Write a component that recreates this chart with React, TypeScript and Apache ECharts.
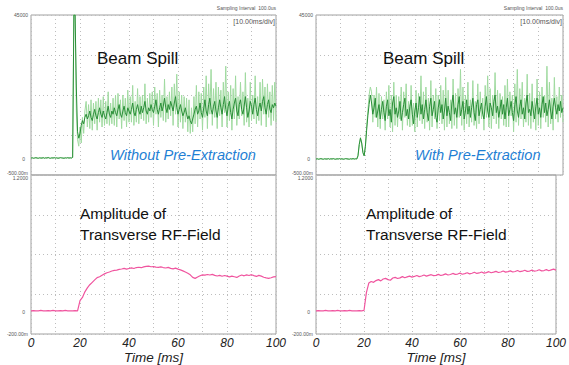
import React, { useEffect, useRef } from "react";
import * as echarts from "echarts";

// Time axis ticks (ms)
const timeTicks = [0, 20, 40, 60, 80, 100];
const spillStep = 0.5; // ms between spill samples
const rfStep = 1; // ms between RF samples

// Beam spill without pre-extraction (percent of full scale), dark averaged trace
const spillWithoutDark = [
  10.6,10.7,10.5,10.6,10.8,10.6,10.5,10.7,10.6,10.6,10.8,10.5,10.7,10.6,10.9,10.6,10.5,10.7,10.6,10.8,10.6,10.7,10.5,10.6,10.8,10.7,10.6,10.5,10.7,10.6,10.8,10.6,10.7,10.6,
  11,100,100,55,27,23,26,31,34,32,36,
  38,35,37,40,36,34,38,41,37,35,
  39,42,38,36,40,37,35,39,43,38,
  36,40,38,42,39,37,41,44,38,36,
  40,43,39,37,42,40,38,41,45,39,
  37,41,44,40,38,43,39,42,46,40,
  38,42,40,44,41,39,43,47,41,38,
  42,45,40,43,48,42,39,44,41,46,
  43,40,45,49,42,38,41,44,40,37,
  39,42,38,35,37,34,32,35,38,41,
  43,38,40,45,39,36,42,47,40,37,
  44,48,41,38,43,46,40,36,42,47,
  42,38,44,49,41,37,43,46,39,35,
  41,45,48,40,37,44,47,41,38,43,
  49,42,36,40,46,43,38,44,48,41,
  37,42,45,40,46,49,42,38,44,47,
  41,39,44,42,45,43,
];
// Raw (envelope) trace without pre-extraction
const spillWithoutLight = [
  10.6,10.9,10.4,10.7,10.9,10.5,10.4,10.8,10.6,10.5,10.9,10.4,10.8,10.6,11.0,10.5,10.4,10.8,10.6,10.9,10.5,10.8,10.4,10.6,10.9,10.7,10.5,10.4,10.8,10.6,10.9,10.5,10.8,10.6,
  11,104,104,40,22,18,30,20,36,26,40,
  46,30,44,29,47,28,45,32,46,28,
  48,33,47,30,49,31,46,32,52,31,
  45,32,48,31,50,30,51,35,47,29,
  50,34,48,30,53,33,49,33,56,31,
  46,33,54,32,49,35,50,34,57,32,
  48,33,51,36,52,31,55,38,51,30,
  53,36,50,34,60,33,49,35,52,37,
  55,31,57,38,63,30,52,33,50,29,
  49,33,48,27,47,26,42,27,49,32,
  56,30,52,35,51,28,55,36,62,29,
  57,38,66,31,54,36,58,29,55,37,
  53,30,58,39,68,30,52,34,56,28,
  54,35,62,31,49,35,58,37,52,31,
  64,33,48,30,58,34,50,35,62,32,
  49,34,58,31,60,38,55,30,57,36,
  52,31,56,34,58,33,
];
// Beam spill with pre-extraction, dark averaged trace
const spillWithDark = [
  10.0,10.1,9.9,10.0,10.2,10.0,9.9,10.1,10.0,10.0,10.2,9.9,10.1,10.0,10.2,10.0,9.9,10.1,10.0,10.2,10.0,10.1,9.9,10.0,10.2,10.1,10.0,9.9,10.1,10.0,10.2,10.0,10.1,10.0,
  12,19,23,20,14,12,18,28,37,44,50,
  45,38,42,48,36,40,44,35,41,46,
  39,34,43,47,37,41,33,45,49,38,
  42,36,40,46,34,39,44,48,37,41,
  35,43,47,38,32,40,45,36,42,49,
  38,44,35,41,47,39,34,43,48,37,
  41,46,36,33,42,47,39,44,35,40,
  48,37,43,39,34,45,50,38,42,36,
  44,49,37,41,46,35,40,47,38,43,
  36,42,48,39,34,44,47,37,41,45,
  38,35,43,49,40,36,45,42,37,46,
  50,39,43,36,41,47,38,44,35,42,
  48,37,41,46,39,34,44,49,40,36,
  43,47,38,42,35,45,50,39,41,37,
  46,40,35,43,48,38,42,36,44,49,
  39,45,37,41,47,40,35,43,48,42,
  38,44,40,46,39,42,
];
// Raw (envelope) trace with pre-extraction
const spillWithLight = [
  10.0,10.3,9.8,10.1,10.3,9.9,9.8,10.2,10.0,9.9,10.3,9.8,10.2,10.0,10.3,9.9,9.8,10.2,10.0,10.3,9.9,10.2,9.8,10.0,10.3,10.1,9.9,9.8,10.2,10.0,10.3,9.9,10.2,10.0,
  12,19,23.5,20,14,12,18,30,40,50,55,
  52,33,50,36,55,30,51,29,49,35,
  47,28,52,35,56,30,50,27,58,31,
  50,30,49,35,55,28,52,36,57,31,
  46,30,56,31,45,27,53,30,51,34,
  62,32,52,29,55,33,48,28,59,30,
  50,35,54,29,50,34,56,32,53,28,
  61,30,53,32,47,29,60,31,51,29,
  54,36,66,31,55,28,50,32,58,30,
  47,33,59,31,46,29,57,32,52,35,
  48,28,56,36,62,30,54,29,50,35,
  64,32,53,29,51,35,49,31,56,30,
  60,30,52,37,50,27,57,33,66,31,
  54,35,58,30,48,33,63,31,51,29,
  57,33,48,28,60,31,52,29,55,36,
  50,33,68,30,58,32,48,28,61,35,
  49,33,55,36,50,33,
];
// Amplitude of transverse RF-field without pre-extraction (percent of full scale), 1 ms steps
const rfWithout = [
  14.6,14.7,14.5,14.6,14.8,14.6,14.5,14.7,14.6,14.8,14.6,14.5,14.7,14.6,14.8,14.6,14.5,14.6,14.7,14.6,
  21,23,26.5,29,31,32.5,34,35.5,36,37,37.8,38.5,39,39.6,40,40.2,40.6,40.9,41.3,40.8,
  41.2,41.6,41.2,41.8,42,41.7,42.2,42.5,42.7,42.3,42.4,42.1,41.9,42.2,41.8,41.5,41.9,41.3,41.0,41.4,
  40.8,40.3,39.7,39,38.2,37.2,35.6,35.0,35.8,36.6,37.2,37.0,37.4,37.1,37.5,36.9,36.5,36.9,36.3,36.8,
  36.4,35.9,36.4,36.0,35.6,36.5,37.1,36.6,37.2,36.8,37.3,36.7,36.2,36.9,36.4,35.7,35.3,35.0,35.4,35.9,
  36.1,
];
// Amplitude of transverse RF-field with pre-extraction
const rfWith = [
  14.6,14.7,14.5,14.6,14.8,14.6,14.5,14.7,14.6,14.8,14.6,14.5,14.7,14.6,14.8,14.6,14.5,14.6,14.7,14.6,
  14.8,26,32,33,32.5,33.6,34.2,33.4,34.6,35,34.2,33.8,35.2,35.6,34.9,35.3,36.1,35.4,35.9,36.4,
  35.8,36.2,36.8,36.1,36.5,37.1,36.4,36.9,37.3,36.7,36.9,37.5,36.8,37.2,37.8,37.1,37.4,38.1,37.5,37.7,
  38.3,37.6,38.0,38.5,37.8,38.2,38.8,38.1,38.4,39.0,38.3,38.6,39.2,38.5,38.9,39.4,38.7,39.0,39.6,38.9,
  39.2,39.7,39.0,39.3,39.9,39.2,39.5,40.1,39.4,39.6,40.2,39.5,39.8,40.4,39.7,39.9,40.5,39.8,40.3,40.8,
  40.2,
];

const FONT = "Liberation Sans, Arial, sans-serif";
const GREEN_DARK = "#2a8f38";
const GREEN_LIGHT = "#a0daa0";
const PINK = "#f0559f";
const BLUE = "#1f7fd4";

function pairs(vals: number[], step: number) {
  return vals.map((v, i) => [i * step, v]);
}

export default function App() {
  const ref = useRef<HTMLDivElement>(null);
  useEffect(() => {
    if (!ref.current) return;
    const chart = echarts.init(ref.current, null, { renderer: "svg" });
    const panels = [
      { left: 31, width: 245 },
      { left: 316, width: 247 },
    ];
    const grids: any[] = [];
    const xAxes: any[] = [];
    const yAxes: any[] = [];
    panels.forEach((p) => {
      grids.push({ left: p.left, width: p.width, top: 15, height: 160, show: true, borderColor: "#a0a0a0", borderWidth: 1, backgroundColor: "transparent" });
      grids.push({ left: p.left, width: p.width, top: 175, height: 160, show: true, borderColor: "#a0a0a0", borderWidth: 1, backgroundColor: "transparent" });
    });
    grids.forEach((_, gi) => {
      const bottom = gi % 2 === 1;
      xAxes.push({
        type: "value",
        gridIndex: gi,
        min: 0,
        max: 100,
        interval: 10,
        axisLine: { show: false },
        axisTick: { show: false },
        axisLabel: bottom
          ? {
              show: true,
              margin: 3,
              fontSize: 12,
              fontStyle: "italic",
              fontFamily: FONT,
              color: "#222",
              formatter: (v: number) => (timeTicks.includes(v) ? String(v) : ""),
            }
          : { show: false },
        splitLine: { show: true, lineStyle: { type: [1, 3], color: "#bdbdbd", width: 1 } },
        name: bottom ? "Time [ms]" : "",
        nameLocation: "middle",
        nameGap: 16,
        nameTextStyle: { fontSize: 13.5, fontStyle: "italic", fontFamily: FONT, color: "#222" },
      });
      yAxes.push({
        type: "value",
        gridIndex: gi,
        min: 0,
        max: 100,
        interval: 25,
        axisLine: { show: false },
        axisTick: { show: false },
        axisLabel: { show: false },
        splitLine: { show: true, lineStyle: { type: [1, 3], color: "#bdbdbd", width: 1 } },
      });
    });

    const line = (idx: number, data: number[][], color: string, width: number, z: number) => ({
      type: "line",
      xAxisIndex: idx,
      yAxisIndex: idx,
      data,
      symbol: "none",
      clip: true,
      z,
      lineStyle: { color, width },
      silent: true,
    });

    const series = [
      line(0, pairs(spillWithoutLight, spillStep), GREEN_LIGHT, 1, 2),
      line(0, pairs(spillWithoutDark, spillStep), GREEN_DARK, 1, 3),
      line(1, pairs(rfWithout, rfStep), PINK, 1.2, 3),
      line(2, pairs(spillWithLight, spillStep), GREEN_LIGHT, 1, 2),
      line(2, pairs(spillWithDark, spillStep), GREEN_DARK, 1, 3),
      line(3, pairs(rfWith, rfStep), PINK, 1.2, 3),
    ];

    const tiny = (x: number, y: number, text: string, align: string = "right", size = 5) => ({
      type: "text",
      x,
      y,
      style: { text, fontSize: size, fontFamily: FONT, fill: "#555", align, verticalAlign: "middle" },
    });
    const graphic: any[] = [];
    panels.forEach((p) => {
      const l = p.left - 3;
      const r = p.left + p.width;
      graphic.push(tiny(l, 15, "45000"));
      graphic.push(tiny(l, 172.5, "-500.00m"));
      graphic.push(tiny(l, 177.5, "1.2000"));
      graphic.push(tiny(l, 334, "-200.00m"));
      graphic.push(tiny(l - 3, 158.5, "0"));
      graphic.push(tiny(l - 3, 312, "0"));
      graphic.push(tiny(r, 8, "Sampling Interval  100.0us"));
      graphic.push(tiny(r - 1, 21, "[10.00ms/div]", "right", 7));
    });
    const label = (x: number, y: number, text: string, size: number, color: string, italic = false) => ({
      type: "text",
      x,
      y,
      z: 10,
      style: { text, fontSize: size, fontFamily: FONT, fill: color, fontStyle: italic ? "italic" : "normal", verticalAlign: "middle" },
    });
    graphic.push(label(97, 58, "Beam Spill", 17, "#111"));
    graphic.push(label(383, 58, "Beam Spill", 17, "#111"));
    graphic.push(label(110, 155, "Without Pre-Extraction", 14.6, BLUE, true));
    graphic.push(label(415, 155, "With Pre-Extraction", 14.6, BLUE, true));
    graphic.push(label(80, 213, "Amplitude of", 15.5, "#111"));
    graphic.push(label(80, 234, "Transverse RF-Field", 15.5, "#111"));
    graphic.push(label(366, 213, "Amplitude of", 15.5, "#111"));
    graphic.push(label(366, 234, "Transverse RF-Field", 15.5, "#111"));

    chart.setOption({
      animation: false,
      backgroundColor: "#ffffff",
      grid: grids,
      xAxis: xAxes,
      yAxis: yAxes,
      series,
      graphic,
    });
    return () => chart.dispose();
  }, []);
  return <div ref={ref} style={{ position: "fixed", left: 0, top: 0, width: 569, height: 365 }} />;
}
